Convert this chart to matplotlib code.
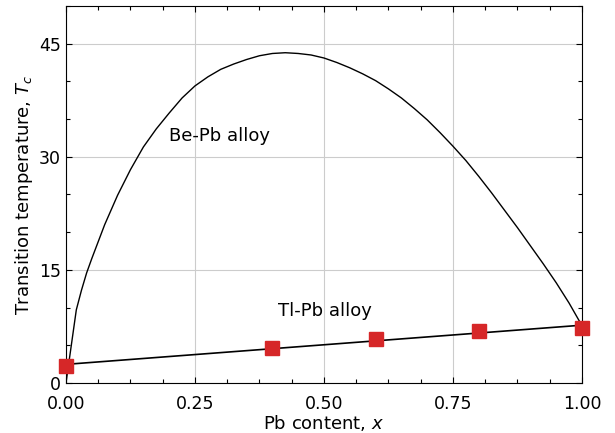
import numpy as np
import matplotlib
matplotlib.use("Agg")
import matplotlib.pyplot as plt
from matplotlib.ticker import MultipleLocator

# Be-Pb alloy: transition temperature vs Pb content
bepb_x = [0.000, 0.020, 0.030, 0.040, 0.050, 0.075, 0.100, 0.125, 0.150,
          0.175, 0.200, 0.225, 0.250, 0.275, 0.300, 0.325, 0.350, 0.375,
          0.400, 0.425, 0.450, 0.475, 0.500, 0.525, 0.550, 0.575, 0.600,
          0.625, 0.650, 0.675, 0.700, 0.725, 0.750, 0.775, 0.800, 0.825,
          0.850, 0.875, 0.900, 0.925, 0.950, 0.975, 1.000]
bepb_tc = [0.0, 9.7, 12.3, 14.6, 16.5, 21.0, 24.9, 28.3, 31.3,
           33.7, 35.8, 37.8, 39.4, 40.6, 41.6, 42.3, 42.9, 43.4,
           43.7, 43.8, 43.7, 43.5, 43.1, 42.5, 41.8, 41.0, 40.1,
           39.0, 37.8, 36.4, 34.9, 33.2, 31.4, 29.5, 27.4, 25.2,
           22.9, 20.6, 18.2, 15.8, 13.3, 10.6, 7.6]

# Tl-Pb alloy measurements
tlpb_x = [0.0, 0.4, 0.6, 0.8, 1.0]
tlpb_tc = [2.3, 4.6, 5.8, 6.9, 7.3]

RED = "#d62728"

fig = plt.figure(figsize=(6.15, 4.33), dpi=100)
ax = fig.add_axes([0.1073, 0.1155, 0.839, 0.8707])

ax.plot(bepb_x, bepb_tc, color="black", lw=1.0)

# least-squares line through the Tl-Pb points
slope, icpt = np.polyfit(tlpb_x, tlpb_tc, 1)
xfit = np.array([0.0, 1.0])
ax.plot(xfit, slope * xfit + icpt, color="black", lw=1.2)
ax.plot(tlpb_x, tlpb_tc, "s", color=RED, ms=10, zorder=3, clip_on=False)

ax.text(0.2, 32.8, "Be-Pb alloy", fontsize=13, ha="left", va="center")
ax.text(0.41, 9.6, "Tl-Pb alloy", fontsize=13, ha="left", va="center")

ax.set_xlim(0, 1)
ax.set_ylim(0, 50)
ax.xaxis.set_minor_locator(MultipleLocator(0.0625))
ax.yaxis.set_major_locator(MultipleLocator(15))
ax.yaxis.set_minor_locator(MultipleLocator(5))
ax.set_xticks([0, 0.25, 0.5, 0.75, 1.0])
ax.set_xticklabels(["0.00", "0.25", "0.50", "0.75", "1.00"])
ax.tick_params(which="both", direction="in", top=True, right=True, labelsize=12.5)
ax.tick_params(which="major", length=4, width=0.8)
ax.tick_params(which="minor", length=3, width=0.8)
ax.tick_params(axis="x", pad=8.5)
ax.grid(True, which="major", color="#cccccc", lw=0.8)
ax.set_axisbelow(True)

ax.set_xlabel("Pb content, $x$", fontsize=13, labelpad=0)
ax.set_ylabel("Transition temperature, $T_c$", fontsize=13, labelpad=3)

fig.savefig("out.png", dpi=100)
